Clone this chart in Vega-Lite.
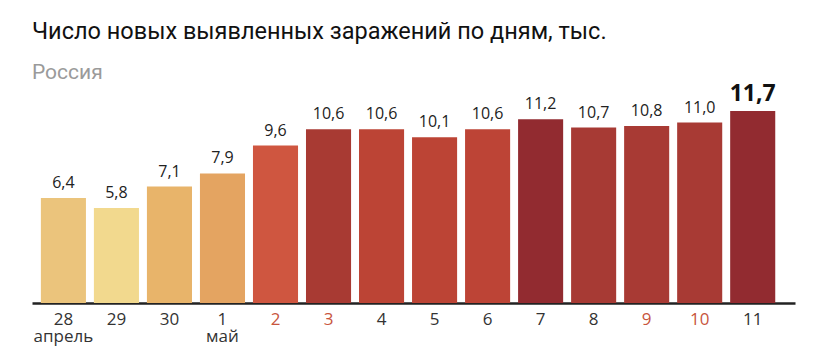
{
  "$schema": "https://vega.github.io/schema/vega-lite/v6.json",
  "width": 763,
  "height": 205,
  "autosize": "none",
  "padding": {"left": 32, "top": 98, "right": 33, "bottom": 61},
  "background": "white",
  "title": {
    "text": "Число новых выявленных заражений по дням, тыс.",
    "subtitle": "Россия",
    "anchor": "start",
    "font": "Roboto",
    "fontSize": 23.5,
    "fontWeight": "normal",
    "color": "#111111",
    "subtitleFont": "Roboto",
    "subtitleFontSize": 21,
    "subtitleColor": "#9a9a9a",
    "subtitlePadding": 19,
    "offset": 0
  },
  "config": {"view": {"stroke": null}},
  "data": {
    "values": [
      {"day": "28", "month": "апрель", "value": 6.4, "label": "6,4", "color": "#EBC47C", "holiday": false, "top": false},
      {"day": "29", "month": "", "value": 5.8, "label": "5,8", "color": "#F2D98E", "holiday": false, "top": false},
      {"day": "30", "month": "", "value": 7.1, "label": "7,1", "color": "#E8B46A", "holiday": false, "top": false},
      {"day": "1", "month": "май", "value": 7.9, "label": "7,9", "color": "#E4A461", "holiday": false, "top": false},
      {"day": "2", "month": "", "value": 9.6, "label": "9,6", "color": "#CF5640", "holiday": true, "top": false},
      {"day": "3", "month": "", "value": 10.6, "label": "10,6", "color": "#A83A33", "holiday": true, "top": false},
      {"day": "4", "month": "", "value": 10.6, "label": "10,6", "color": "#BC4435", "holiday": false, "top": false},
      {"day": "5", "month": "", "value": 10.1, "label": "10,1", "color": "#BC4435", "holiday": false, "top": false},
      {"day": "6", "month": "", "value": 10.6, "label": "10,6", "color": "#BD4436", "holiday": false, "top": false},
      {"day": "7", "month": "", "value": 11.2, "label": "11,2", "color": "#922B30", "holiday": false, "top": false},
      {"day": "8", "month": "", "value": 10.7, "label": "10,7", "color": "#A73A34", "holiday": false, "top": false},
      {"day": "9", "month": "", "value": 10.8, "label": "10,8", "color": "#A83A34", "holiday": true, "top": false},
      {"day": "10", "month": "", "value": 11.0, "label": "11,0", "color": "#A83A34", "holiday": true, "top": false},
      {"day": "11", "month": "", "value": 11.7, "label": "11,7", "color": "#922B30", "holiday": false, "top": true}
    ]
  },
  "encoding": {
    "x": {
      "field": "day",
      "type": "nominal",
      "sort": null,
      "scale": {"paddingInner": 0.15, "paddingOuter": 0.27, "align": 0.31},
      "axis": {
        "title": null,
        "labelAngle": 0,
        "labelFont": "Open Sans",
        "labelFontSize": 17,
        "labelColor": {"condition": {"test": "indexof(['2','3','9','10'], datum.value) >= 0", "value": "#C8553D"}, "value": "#333333"},
        "labelExpr": "datum.value == '28' ? ['28', 'апрель'] : datum.value == '1' ? ['1', 'май'] : datum.value",
        "labelLineHeight": 17,
        "labelPadding": 8,
        "ticks": false,
        "domainColor": "#222222",
        "domainWidth": 2.5
      }
    },
    "y": {
      "field": "value",
      "type": "quantitative",
      "scale": {"domain": [0, 12.5], "nice": false},
      "axis": null
    }
  },
  "layer": [
    {
      "mark": {"type": "bar"},
      "encoding": {
        "color": {"field": "color", "type": "nominal", "scale": null}
      }
    },
    {
      "transform": [{"filter": "!datum.top"}],
      "mark": {"type": "text", "baseline": "bottom", "dy": -7, "font": "Open Sans", "fontSize": 16, "color": "#222222"},
      "encoding": {"text": {"field": "label"}}
    },
    {
      "transform": [{"filter": "datum.top"}],
      "mark": {"type": "text", "baseline": "bottom", "dy": -5, "font": "Open Sans", "fontSize": 23, "fontWeight": "bold", "color": "#111111"},
      "encoding": {"text": {"field": "label"}}
    }
  ]
}
